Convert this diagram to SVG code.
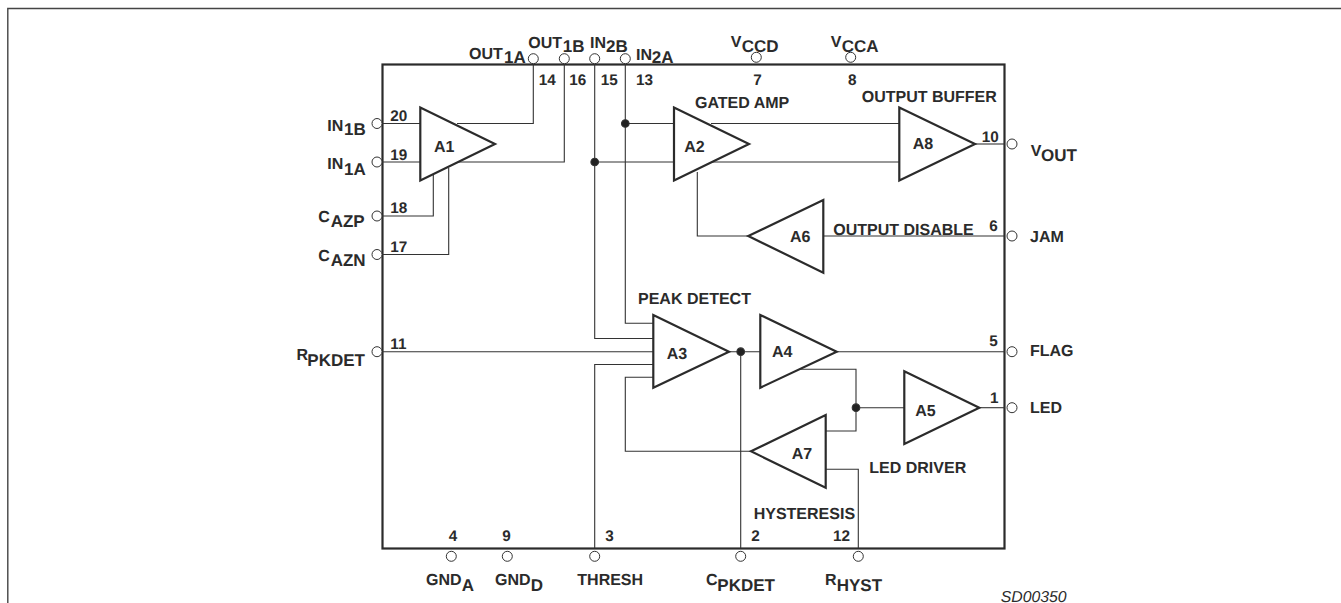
<svg xmlns="http://www.w3.org/2000/svg" width="1341" height="603" viewBox="0 0 1341 603">
<style>
text{font-family:"Liberation Sans",Arial,sans-serif;font-weight:700;font-size:16px;fill:#2b2b2b;text-rendering:geometricPrecision}
.s{font-size:17px}
.p{font-size:15.3px}
.id{font-weight:400;font-style:italic;font-size:15.8px}
.w{fill:none;stroke:#333;stroke-width:1.1}
.b{fill:#fff;stroke:#2b2b2b;stroke-width:2.2;stroke-linejoin:miter}
.c{fill:#fff;stroke:#333;stroke-width:1}
.d{fill:#222}
</style>
<rect width="1341" height="603" fill="#fff"/>
<path id="frame" d="M7.8 603V8.5H1341" fill="none" stroke="#444" stroke-width="1.4"/>
<rect id="chip" x="382.5" y="64.5" width="622" height="484" fill="none" stroke="#2b2b2b" stroke-width="2.2"/>
<g id="connectors" class="w">
<path class="w" d="M382 123.5H420M457 123.5H533.3V64"/>
<path class="w" d="M382 162H420M457 162H564.3V64"/>
<path class="w" d="M594.7 64V338.5H653M594.7 162H674"/>
<path class="w" d="M625.3 64V323.3H653M625.3 123.5H674"/>
<path class="w" d="M711 123.5H899M711 162H899"/>
<path class="w" d="M697.3 172V236H748M823 236H1005"/>
<path class="w" d="M975 144H1005"/>
<path class="w" d="M433.3 173V216H382M448.7 168V254.5H382"/>
<path class="w" d="M382 351.7H653"/>
<path class="w" d="M594.7 548V364.5H653"/>
<path class="w" d="M653 377.3H625.3V451.3H751"/>
<path class="w" d="M729 351.7H760M740.7 351.7V548"/>
<path class="w" d="M836.7 351.7H1005"/>
<path class="w" d="M800 369.3H856V431H825.7M856 407.7H904"/>
<path class="w" d="M979.3 407.7H1005"/>
<path class="w" d="M825.7 469.3H858.3V548"/>
<circle class="d" cx="594.7" cy="162" r="3.8"/>
<circle class="d" cx="625.3" cy="123.5" r="3.8"/>
<circle class="d" cx="740.7" cy="351.7" r="3.8"/>
<circle class="d" cx="856" cy="407.7" r="3.8"/>
</g>
<g id="A1"><path class="b" d="M420.3 107.5V180.5L495 144Z"/><text x="434" y="151.7">A1</text></g>
<g id="A2"><path class="b" d="M674 107.5V180.5L749 144Z"/><text x="684.3" y="151.7">A2</text></g>
<g id="A8"><path class="b" d="M899.3 107.5V180.5L975 144Z"/><text x="912.7" y="149.3">A8</text></g>
<g id="A6"><path class="b" d="M823.3 200V272.7L748.3 236Z"/><text x="790" y="242">A6</text></g>
<g id="A3"><path class="b" d="M653.3 315V387.7L729 351.7Z"/><text x="666.7" y="359">A3</text></g>
<g id="A4"><path class="b" d="M760.3 315V387.7L836.7 351.7Z"/><text x="772" y="357">A4</text></g>
<g id="A5"><path class="b" d="M904.3 371.3V444L979.3 407.7Z"/><text x="915.3" y="416">A5</text></g>
<g id="A7"><path class="b" d="M825.7 415V487.7L751 451.3Z"/><text x="791.7" y="459.3">A7</text></g>
<g id="pins">
<circle class="c" cx="533.3" cy="58.7" r="5"/><circle class="c" cx="564.3" cy="58.7" r="5"/><circle class="c" cx="594.7" cy="58.7" r="5"/><circle class="c" cx="625.3" cy="58.7" r="5"/>
<circle class="c" cx="756.3" cy="57.3" r="5"/><circle class="c" cx="850.7" cy="57.3" r="5"/>
<circle class="c" cx="377" cy="123.5" r="5"/><circle class="c" cx="377" cy="162" r="5"/><circle class="c" cx="377" cy="216" r="5"/><circle class="c" cx="377" cy="254.5" r="5"/><circle class="c" cx="377" cy="351.7" r="5"/>
<circle class="c" cx="1012" cy="144" r="5"/><circle class="c" cx="1012" cy="236" r="5"/><circle class="c" cx="1012" cy="351.7" r="5"/><circle class="c" cx="1012" cy="407.7" r="5"/>
<circle class="c" cx="451.3" cy="556.3" r="5"/><circle class="c" cx="507.3" cy="556.3" r="5"/><circle class="c" cx="594.7" cy="556.3" r="5"/><circle class="c" cx="740.7" cy="556.3" r="5"/><circle class="c" cx="858.3" cy="556.3" r="5"/>
</g>
<g id="pin-names">
<text x="469" y="58.5">OUT<tspan class="s" x="504" y="62.5">1A</tspan></text>
<text x="528.3" y="47.5">OUT<tspan class="s" x="562.7" y="52">1B</tspan></text>
<text x="590" y="47.5">IN<tspan class="s" x="606" y="52">2B</tspan></text>
<text x="636" y="59.5">IN<tspan class="s" x="651.7" y="62.5">2A</tspan></text>
<text x="730.7" y="47">V<tspan class="s" x="741.7" y="52">CCD</tspan></text>
<text x="830.7" y="47">V<tspan class="s" x="841.7" y="52">CCA</tspan></text>
<text x="327.3" y="130.5">IN<tspan class="s" x="344" y="134.5">1B</tspan></text>
<text x="327.3" y="169">IN<tspan class="s" x="344" y="175">1A</tspan></text>
<text x="318.3" y="222">C<tspan class="s" x="330.7" y="226.5">AZP</tspan></text>
<text x="318.3" y="260.5">C<tspan class="s" x="330.7" y="265.5">AZN</tspan></text>
<text x="296.5" y="359.5">R<tspan class="s" x="307.3" y="366">PKDET</tspan></text>
<text x="1030.7" y="155.5">V<tspan class="s" x="1041" y="160.5">OUT</tspan></text>
<text x="1030" y="241.5">JAM</text>
<text x="1030" y="356">FLAG</text>
<text x="1030" y="412.5">LED</text>
<text x="426" y="585">GND<tspan class="s" x="461.7" y="590.5">A</tspan></text>
<text x="495" y="585">GND<tspan class="s" x="530.7" y="590.5">D</tspan></text>
<text x="577.3" y="584.5">THRESH</text>
<text x="706" y="584.5">C<tspan class="s" x="717.3" y="590.5">PKDET</tspan></text>
<text x="825" y="584.5">R<tspan class="s" x="836.7" y="590.5">HYST</tspan></text>
</g>
<g id="pin-numbers">
<text class="p" x="538.7" y="85.3">14</text><text class="p" x="569.3" y="85.3">16</text><text class="p" x="600.7" y="85.3">15</text><text class="p" x="636" y="85.3">13</text><text class="p" x="753.3" y="85.3">7</text><text class="p" x="848" y="85.3">8</text>
<text class="p" x="390.3" y="121">20</text><text class="p" x="390.3" y="160">19</text><text class="p" x="390.3" y="213.3">18</text><text class="p" x="390.3" y="252.3">17</text><text class="p" x="390.3" y="349.3">11</text>
<text class="p" x="981.7" y="142.3">10</text><text class="p" x="989.3" y="231">6</text><text class="p" x="989.3" y="345.7">5</text><text class="p" x="990" y="402.7">1</text>
<text class="p" x="448.7" y="541">4</text><text class="p" x="502.3" y="541">9</text><text class="p" x="605.3" y="541">3</text><text class="p" x="751.3" y="541">2</text><text class="p" x="833" y="541">12</text>
</g>
<g id="titles">
<text x="695" y="108">GATED AMP</text>
<text x="861.7" y="101.5">OUTPUT BUFFER</text>
<text x="833.3" y="234.8">OUTPUT DISABLE</text>
<text x="638" y="303.5">PEAK DETECT</text>
<text x="869.3" y="472.5">LED DRIVER</text>
<text x="753.7" y="518.5">HYSTERESIS</text>
<text class="id" x="1000.7" y="602">SD00350</text>
</g>
</svg>
